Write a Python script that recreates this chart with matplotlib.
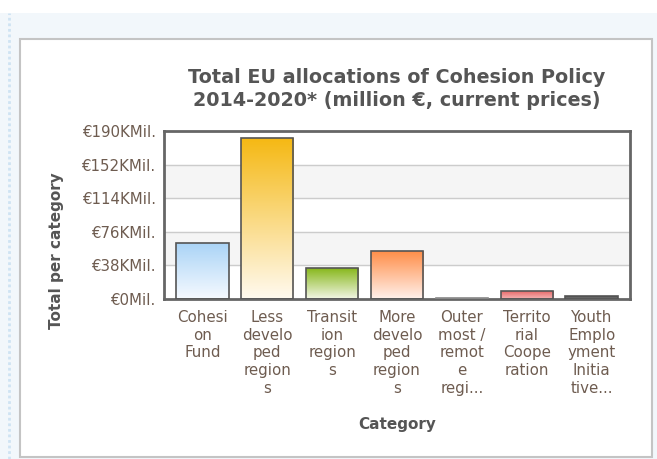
import numpy as np
import matplotlib.pyplot as plt
from matplotlib.patches import Rectangle
from matplotlib.lines import Line2D
from matplotlib.colors import LinearSegmentedColormap

# data (million EUR, current prices)
categories = ["Cohesi\non\nFund", "Less\ndevelo\nped\nregion\ns", "Transit\nion\nregion\ns",
              "More\ndevelo\nped\nregion\ns", "Outer\nmost /\nremot\ne\nregi...",
              "Territo\nrial\nCoope\nration", "Youth\nEmplo\nyment\nInitia\ntive..."]
values = [63400, 182200, 35400, 54300, 1400, 8900, 3200]
top_colors = ["#a9d3f6", "#f5b812", "#84b515", "#ff8c45", "#cccccc", "#e76a6a", "#444444"]
bottom_colors = ["#f6faff", "#fffaf0", "#f2f6e6", "#fff1ec", "#ffffff", "#f5b5b5", "#888888"]
yticks = [0, 38000, 76000, 114000, 152000, 190000]
ytick_labels = ["€0Mil.", "€38KMil.", "€76KMil.", "€114KMil.", "€152KMil.", "€190KMil."]

W, H = 657, 459
fig = plt.figure(figsize=(W / 100, H / 100), dpi=100)
fig.patch.set_facecolor("#f2f7fb")

# white strip on top, dotted left edge, white panel
fig.patches.append(Rectangle((0, 1 - 13 / H), 1, 13 / H, transform=fig.transFigure,
                             facecolor="white", edgecolor="none", zorder=0))
fig.lines.append(Line2D([9 / W, 9 / W], [0, 1 - 13 / H], transform=fig.transFigure,
                        color="#cfe3f3", lw=2, ls=(0, (1, 1)), zorder=1))
fig.patches.append(Rectangle((20 / W, 1 - 457 / H), 632 / W, 418 / H, transform=fig.transFigure,
                             facecolor="white", edgecolor="#c4c4c4", lw=1.5, zorder=1))

ax = fig.add_axes([164 / W, 1 - 299 / H, 466 / W, 168 / H])
ax.set_facecolor("white")
ax.set_zorder(2)

x = np.arange(len(values))
edges = ["#555555"] * len(values)
edges[4] = "#888888"
bars = ax.bar(x, values, width=0.81, edgecolor=edges, linewidth=1.2, color="none", zorder=3)
grad = np.linspace(0, 1, 256).reshape(-1, 1)
for b, c1, c2 in zip(bars, top_colors, bottom_colors):
    cmap = LinearSegmentedColormap.from_list("g", [c2, c1])
    x0, w, h = b.get_x(), b.get_width(), b.get_height()
    im = ax.imshow(grad, cmap=cmap, aspect="auto", origin="lower",
                   extent=[x0, x0 + w, 0, h], zorder=2)
    im.set_clip_path(b)

for lo, hi in [(38000, 76000), (114000, 152000)]:
    ax.axhspan(lo, hi, color="#f5f5f5", zorder=0)
for t in yticks[1:-1]:
    ax.axhline(t, color="#cccccc", lw=1, zorder=1)

ax.set_xlim(-0.59, 6.59)
ax.set_ylim(0, 190000)
ax.set_yticks(yticks)
ax.set_yticklabels(ytick_labels)
ax.set_xticks(x)
ax.set_xticklabels(categories, linespacing=1.22, va="top")
ax.tick_params(length=0, labelsize=10.8, colors="#6e5c50")
ax.tick_params(axis="y", pad=6)
ax.tick_params(axis="x", pad=8)
for s in ax.spines.values():
    s.set_color("#666666")
    s.set_linewidth(2)

fig.text(397 / W, 1 - 89 / H, "Total EU allocations of Cohesion Policy\n2014-2020* (million €, current prices)",
         ha="center", va="center", fontsize=13.8, fontweight="bold", color="#555555", linespacing=1.3)
fig.text(397 / W, 1 - 425 / H, "Category", ha="center", va="center",
         fontsize=11, fontweight="bold", color="#555555")
fig.text(57 / W, 1 - 251 / H, "Total per category", ha="center", va="center", rotation=90,
         fontsize=11, fontweight="bold", color="#555555")

fig.savefig("out.png", dpi=100, facecolor=fig.get_facecolor())
